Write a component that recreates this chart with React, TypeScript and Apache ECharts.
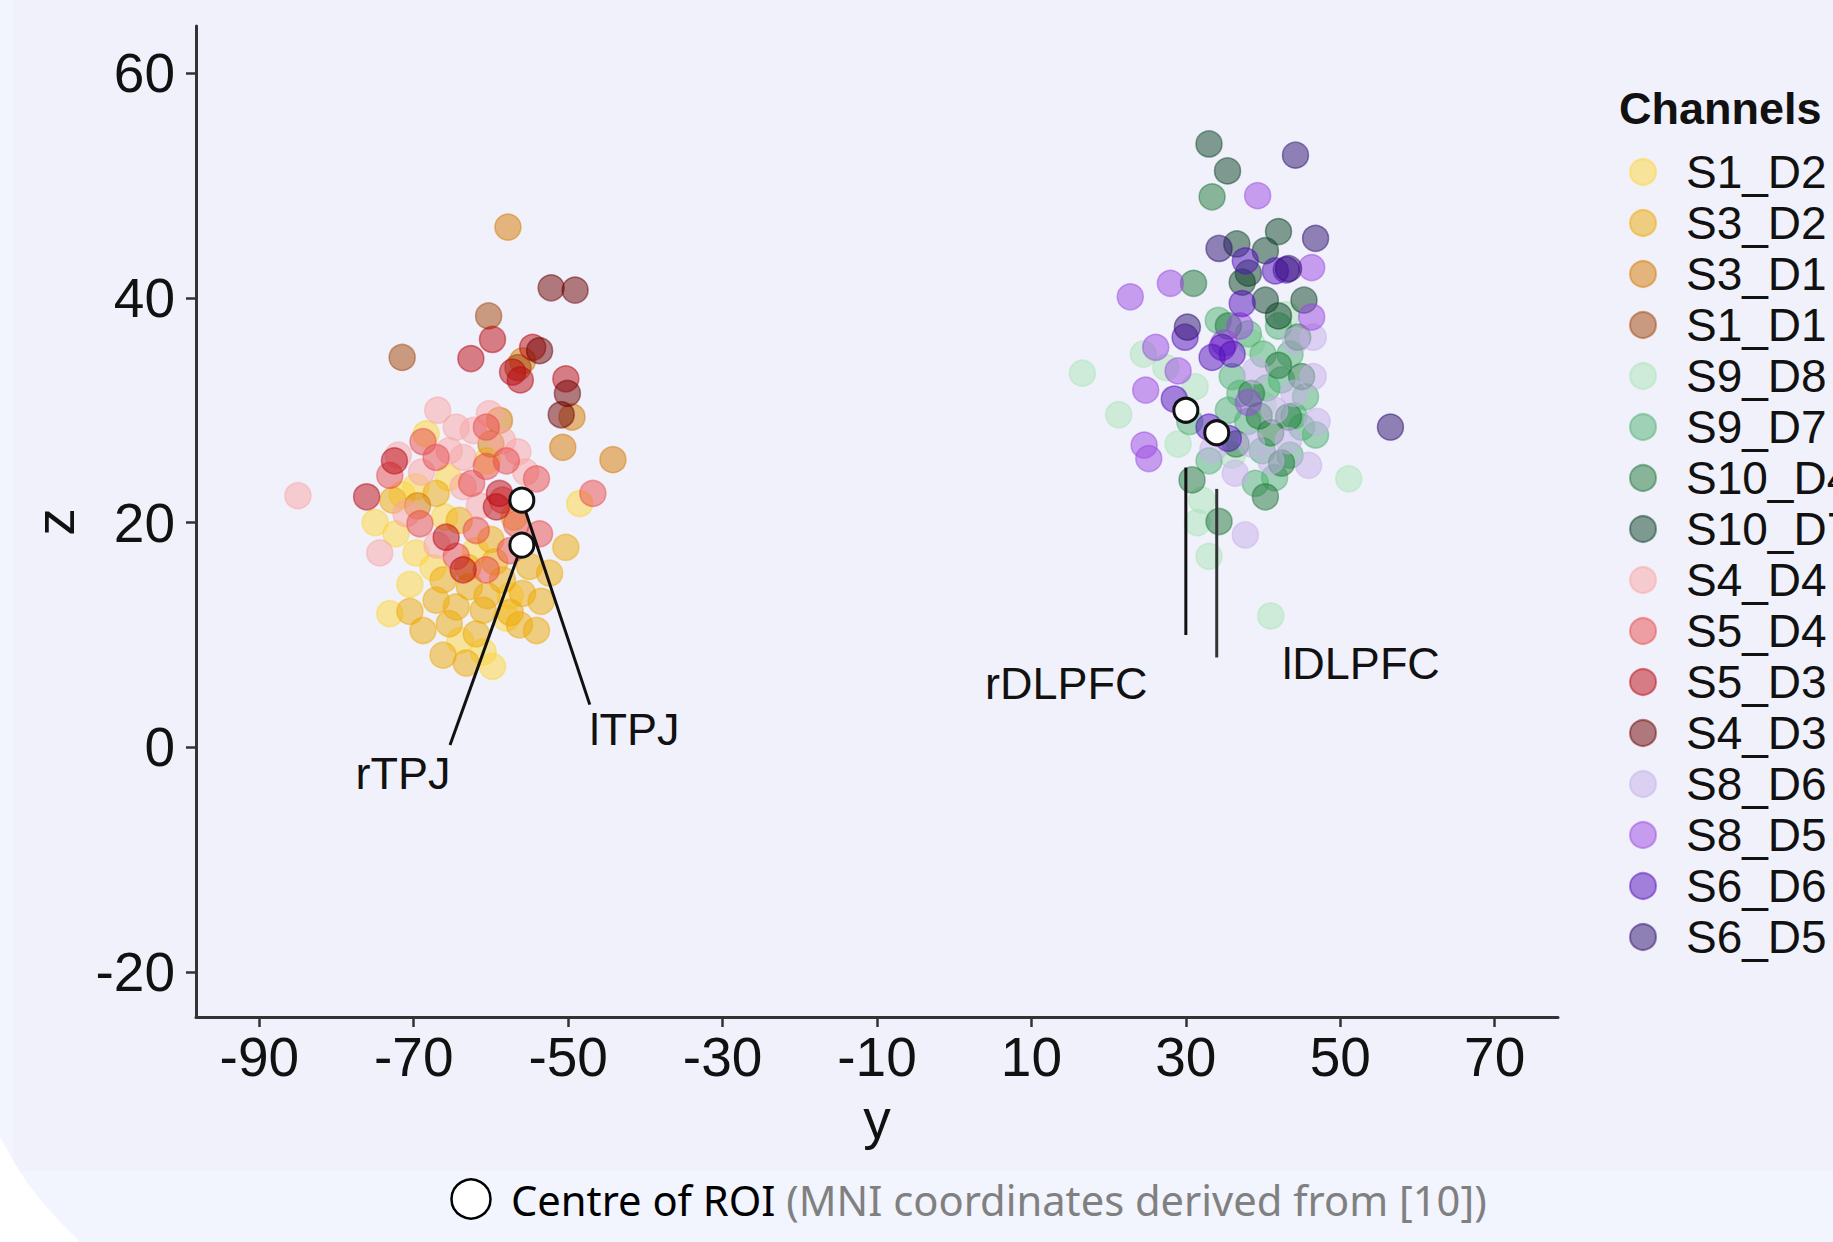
import React, { useEffect, useRef } from "react";
import * as echarts from "echarts";

// ---------- data ----------
const channelNames = [
  "S1_D2", "S3_D2", "S3_D1", "S1_D1", "S9_D8", "S9_D7", "S10_D4", "S10_D7",
  "S4_D4", "S5_D4", "S5_D3", "S4_D3", "S8_D6", "S8_D5", "S6_D6", "S6_D5",
];
const channelColors = [
  "rgba(253,213,57,0.5)", "rgba(237,169,5,0.5)", "rgba(213,121,0,0.5)", "rgba(161,67,5,0.5)",
  "rgba(169,229,181,0.5)", "rgba(77,177,113,0.5)", "rgba(31,119,57,0.5)", "rgba(11,65,37,0.5)",
  "rgba(249,165,165,0.5)", "rgba(231,75,75,0.5)", "rgba(185,7,15,0.5)", "rgba(107,0,0,0.5)",
  "rgba(199,175,233,0.5)", "rgba(155,73,225,0.5)", "rgba(83,13,187,0.5)", "rgba(43,13,109,0.5)",
];

const S1_D2 = [[-68.4,27.9],[-69.7,23.2],[-72.3,19.0],[-69.7,17.3],[-73.1,11.9],[-59.8,7.2],[-48.5,21.7],[-66.0,20.5],[-62.0,17.5],[-57.5,13.5],[-64.0,9.5],[-70.5,14.5],[-60.5,25.5],[-75.0,20.0],[-58.0,11.5],[-71.5,22.5],[-67.5,16.0],[-61.0,8.5],[-65.5,24.0]];
const S3_D2 = [[-72.7,22.0],[-67.1,22.6],[-64.1,20.2],[-66.2,14.9],[-62.8,14.3],[-58.5,14.9],[-55.0,16.1],[-52.4,15.5],[-55.9,13.7],[-67.1,13.1],[-64.5,12.5],[-61.0,12.2],[-70.5,12.1],[-65.4,11.0],[-61.9,10.1],[-56.3,10.9],[-54.1,10.4],[-50.3,17.8],[-60.0,18.5],[-57.0,20.5],[-66.2,8.2],[-68.8,10.4],[-63.2,7.5],[-59.5,16.5],[-53.5,13.0],[-63.0,16.0],[-57.5,12.0],[-60.5,13.5]];
const S3_D1 = [[-57.8,46.3],[-55.9,34.4],[-49.5,29.4],[-58.9,29.1],[-50.7,26.7],[-44.2,25.6],[-60.0,27.0],[-69.5,21.5]];
const S1_D1 = [[-60.3,38.4],[-71.5,34.7],[-56.5,33.8]];
const S9_D8 = [[16.6,33.3],[21.3,29.6],[27.4,33.8],[31.2,32.1],[51.1,23.9],[41.0,11.7],[32.1,22.0],[24.5,35.0],[29.0,27.0],[36.0,26.0],[40.0,30.5],[33.0,17.0],[38.5,36.0],[43.0,38.5],[31.5,20.0]];
const S9_D7 = [[38.1,36.8],[34.2,38.0],[42.4,32.7],[45.5,31.2],[46.8,27.8],[39.9,26.4],[36.0,33.0],[40.0,35.0],[43.5,35.0],[33.0,25.5],[38.0,29.0],[44.0,29.5],[41.5,24.0],[35.5,30.0],[42.0,37.5],[30.5,29.0],[40.5,32.0],[37.0,31.5],[43.5,26.0],[39.0,23.5],[45.0,28.5]];
const S10_D4 = [[33.4,49.0],[31.0,41.3],[43.3,29.4],[42.4,25.3],[40.3,22.3],[30.8,23.8],[34.3,20.1],[38.5,31.5],[45.0,33.0],[41.0,28.0],[36.5,27.0],[44.5,36.5],[35.5,37.5],[39.5,29.5],[42.0,34.0]];
const S10_D7 = [[33.0,53.7],[35.4,51.3],[42.0,45.9],[36.6,44.8],[40.3,44.2],[38.1,42.2],[37.3,41.4],[40.3,39.8],[45.3,39.8],[42.0,38.4]];
const S4_D4 = [[-85.0,22.4],[-66.9,30.0],[-74.4,17.3],[-72.0,26.0],[-62.3,28.2],[-56.5,26.3],[-71.0,20.8],[-63.6,25.8],[-58.5,27.3],[-65.4,26.4],[-63.6,23.2],[-60.2,29.7],[-67.0,18.0],[-61.5,21.5],[-69.0,24.5],[-55.5,24.5],[-64.5,28.5]];
const S5_D4 = [[-68.8,27.2],[-60.6,28.5],[-60.6,25.0],[-54.1,23.9],[-69.2,19.9],[-61.9,19.3],[-56.7,19.9],[-60.6,15.8],[-53.7,19.0],[-46.8,22.6],[-67.1,25.8],[-73.1,24.2],[-58.5,22.0],[-64.5,17.0],[-62.5,23.5],[-57.5,17.5],[-58.0,25.5]];
const S5_D3 = [[-59.8,36.3],[-62.6,34.6],[-54.6,35.6],[-57.2,33.4],[-56.2,32.7],[-50.3,32.8],[-76.1,22.3],[-58.9,22.6],[-59.3,21.4],[-65.8,18.7],[-63.6,15.8],[-72.5,25.5]];
const S4_D3 = [[-52.2,40.9],[-49.1,40.7],[-53.7,35.3],[-50.1,31.5],[-50.9,29.6]];
const S8_D6 = [[44.2,36.2],[43.3,27.3],[45.9,25.1],[37.7,18.9],[36.4,24.4],[46.5,33.0],[41.5,30.0],[39.0,33.5],[44.0,31.5],[33.5,26.5],[47.0,29.0],[38.5,27.0],[46.5,36.5],[41.0,25.5]];
const S8_D5 = [[39.3,49.1],[46.3,42.7],[28.0,41.3],[22.8,40.1],[46.3,38.3],[26.1,35.6],[24.8,31.8],[38.1,30.7],[24.6,26.9],[25.2,25.7],[29.0,33.5],[37.0,37.5],[35.0,36.0]];
const S6_D6 = [[37.7,43.3],[41.6,42.4],[37.3,39.5],[33.4,34.7],[34.7,35.6],[29.9,36.5],[33.0,28.5],[35.5,27.5],[28.5,31.0],[36.0,35.0],[43.0,42.5]];
const S6_D5 = [[44.2,52.7],[46.8,45.3],[34.3,44.4],[43.3,42.6],[30.2,37.4],[56.5,28.5]];

const channelData = [S1_D2, S3_D2, S3_D1, S1_D1, S9_D8, S9_D7, S10_D4, S10_D7, S4_D4, S5_D4, S5_D3, S4_D3, S8_D6, S8_D5, S6_D6, S6_D5];

const roiNames = ["rTPJ", "lTPJ", "rDLPFC", "lDLPFC"];
const roiCentres = [[-56, 18], [-56, 22], [30, 30], [34, 28]];
const roiLeaderLines = [
  [[-56, 18], [-65.3, 0.2]],
  [[-55.8, 21.6], [-47.2, 3.8]],
  [[30, 24.9], [30, 10.0]],
  [[34, 23.0], [34, 8.0]],
];
const roiLabelPos = [[-71.4, -2.3], [-41.4, 1.6], [14.5, 5.7], [52.7, 7.5]];

const xTicks = [-90, -70, -50, -30, -10, 10, 30, 50, 70];
const yTicks = [-20, 0, 20, 40, 60];

const legendTitle = "Channels";
const xTitle = "y";
const yTitle = "z";
const captionMain = "Centre of ROI";
const captionNote = "(MNI coordinates derived from [10])";

export default function App() {
  const ref = useRef<HTMLDivElement>(null);

  useEffect(() => {
    if (!ref.current) return;
    const chart = echarts.init(ref.current, null, { renderer: "svg" });
    const axisFont = "Liberation Sans, Arial, Helvetica, sans-serif";

    const dotSeries = channelNames.map((name, i) => ({
      name,
      type: "scatter",
      data: channelData[i],
      symbol: "circle",
      symbolSize: 26,
      itemStyle: { color: channelColors[i], borderColor: channelColors[i], borderWidth: 1.5, opacity: 1 },
      emphasis: { disabled: true },
      silent: true,
      z: 2,
    }));

    const leaderSeries = roiLeaderLines.map((seg, i) => ({
      name: "leader_" + roiNames[i],
      type: "line",
      data: seg,
      symbol: "none",
      lineStyle: { color: i === 3 ? "#333" : "#111", width: 3 },
      silent: true,
      z: 4,
    }));

    const option: any = {
      animation: false,
      backgroundColor: "#F1F1FB",
      grid: { left: 196, right: 275, top: 26, bottom: 225, containLabel: false },
      xAxis: {
        type: "value",
        min: -98.2,
        max: 78.2,
        axisLine: { show: true, onZero: false, lineStyle: { color: "#333", width: 3 } },
        axisTick: { show: true, customValues: xTicks, length: 10, lineStyle: { color: "#333", width: 2.5 } },
        axisLabel: { customValues: xTicks, fontSize: 55, fontFamily: axisFont, color: "#111", margin: 12 },
        splitLine: { show: false },
      },
      yAxis: {
        type: "value",
        min: -24,
        max: 64.2,
        axisLine: { show: true, onZero: false, lineStyle: { color: "#333", width: 3 } },
        axisTick: { show: true, customValues: yTicks, length: 10, lineStyle: { color: "#333", width: 2.5 } },
        axisLabel: { customValues: yTicks, fontSize: 55, fontFamily: axisFont, color: "#111", margin: 21 },
        splitLine: { show: false },
      },
      legend: {
        data: channelNames,
        orient: "vertical",
        left: 1629,
        top: 149,
        padding: 0,
        icon: "circle",
        itemWidth: 76,
        itemHeight: 26,
        itemGap: 5,
        selectedMode: false,
        itemStyle: { opacity: 1 },
        textStyle: { fontSize: 46, lineHeight: 46, width: 130, overflow: "none", fontFamily: axisFont, color: "#111" },
      },
      graphic: [
        { type: "rect", z: -20, silent: true, shape: { x: 0, y: 1171, width: 1833, height: 71 }, style: { fill: "#F2F4FE" } },
        { type: "rect", z: -20, silent: true, shape: { x: 0, y: 0, width: 13, height: 1242 }, style: { fill: "#F2F4FE" } },
        {
          type: "polygon", z: -19, silent: true,
          shape: { points: [[0, 1137], [14, 1162], [28, 1184], [44, 1204], [62, 1224], [80, 1242], [0, 1242]] },
          style: { fill: "#FFFFFF" },
        },
        {
          type: "text", left: 1619, top: 86, silent: true,
          style: { text: legendTitle, font: "bold 45px Liberation Sans, Arial, sans-serif", fill: "#111" },
        },
        {
          type: "text", x: 877, y: 1119, silent: true,
          style: { text: xTitle, font: "55px Liberation Sans, Arial, sans-serif", fill: "#111", align: "center", verticalAlign: "middle", textAlign: "center", textVerticalAlign: "middle" },
        },
        {
          type: "text", x: 55, y: 522, rotation: Math.PI / 2, silent: true,
          style: { text: yTitle, font: "55px Liberation Sans, Arial, sans-serif", fill: "#111", align: "center", verticalAlign: "middle", textAlign: "center", textVerticalAlign: "middle" },
        },
        {
          type: "circle", silent: true,
          shape: { cx: 471, cy: 1199, r: 19.5 },
          style: { fill: "#FFFFFF", stroke: "#000", lineWidth: 2.5 },
        },
        {
          type: "text", x: 511, y: 1199, silent: true,
          style: {
            text: "{a|" + captionMain + "} {b|" + captionNote + "}",
            font: "41.7px Noto Sans, sans-serif",
            align: "left", verticalAlign: "middle", textAlign: "left", textVerticalAlign: "middle",
            rich: {
              a: { fontSize: 41.7, fontFamily: "Noto Sans", fill: "#000", color: "#000" },
              b: { fontSize: 41.7, fontFamily: "Noto Sans", fill: "#808080", color: "#808080" },
            },
          },
        },
      ],
      series: [
        ...dotSeries,
        ...leaderSeries,
        {
          name: "ROI",
          type: "scatter",
          data: roiCentres,
          symbol: "circle",
          symbolSize: 24,
          itemStyle: { color: "#FFFFFF", borderColor: "#111", borderWidth: 3, opacity: 1 },
          silent: true,
          z: 6,
        },
        {
          name: "ROI labels",
          type: "scatter",
          data: roiLabelPos.map((p, i) => ({ value: p, name: roiNames[i] })),
          symbolSize: 0,
          silent: true,
          z: 7,
          itemStyle: { opacity: 1 },
          label: {
            show: true,
            position: "inside",
            formatter: "{b}",
            fontSize: 45,
            fontFamily: axisFont,
            color: "#111",
            opacity: 1,
            textBorderWidth: 0,
            textBorderColor: "transparent",
          },
        },
      ],
    };

    chart.setOption(option);
    return () => chart.dispose();
  }, []);

  return (
    <div
      ref={ref}
      style={{ position: "fixed", left: 0, top: 0, width: 1833, height: 1242 }}
    />
  );
}
